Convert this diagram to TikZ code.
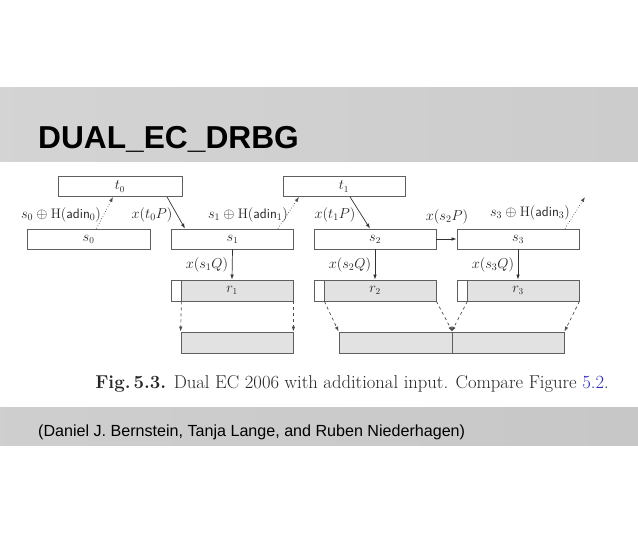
\documentclass[tikz,border=0pt]{standalone}
\usepackage{fontspec}
\newfontfamily\arialfont{Liberation Sans}
\usetikzlibrary{arrows.meta}
\definecolor{linkblue}{RGB}{40,40,190}
\definecolor{boxline}{RGB}{95,95,95}
\definecolor{rfill}{RGB}{226,226,226}
\tikzset{
  box/.style={draw=boxline, line width=0.8pt, minimum height=20pt, inner sep=0pt, font=\fontsize{13.5}{15}\selectfont, text=black!85},
  rbox/.style={box, fill=rfill, minimum height=21pt},
  pbox/.style={draw=boxline, line width=0.8pt, fill=white, minimum height=21pt, minimum width=10pt, inner sep=0pt},
  lbl/.style={font=\fontsize{13.8}{15}\selectfont, text=black!85, inner sep=0pt},
  conn/.style={draw=black!80, line width=0.7pt, -{Latex[length=5pt,width=3.5pt]}},
  dotconn/.style={conn, dotted, draw=black!70},
  dashconn/.style={conn, dash pattern=on 3pt off 3pt, draw=black!70},
}
\begin{document}
\begin{tikzpicture}[x=1pt,y=-1pt]
\useasboundingbox (0,0) rectangle (638,534);
\fill[white] (0,0) rectangle (638,534);
% bands
\shade[left color=black!17, middle color=black!3, right color=black!20] (0,88) rectangle (638,162);
\shade[left color=black!19, middle color=black!4, right color=black!22] (0,408) rectangle (638,446);
\node[anchor=base west, inner sep=0pt, font=\arialfont\bfseries\fontsize{31.7}{36}\selectfont] (title) at (38,149) {DUAL\_EC\_DRBG};
% top boxes
\node[box, minimum width=124pt] (t0) at (120,186.5) {$t_0$};
\node[box, minimum width=123pt] (s0) at (88.5,239) {$s_0$};
\node[box, minimum width=122pt] (s1) at (232.5,239) {$s_1$};
\node[box, minimum width=122pt] (t1) at (344,186.5) {$t_1$};
\node[box, minimum width=122pt] (s2) at (375,239) {$s_2$};
\node[box, minimum width=122pt] (s3) at (518,239) {$s_3$};
% r boxes
\node[rbox, minimum width=122pt] (r1) at (232,290.5) {$r_1$};
\node[pbox] (r1p) at (176,290.5) {};
\node[rbox, minimum width=122pt] (r2) at (375,290.5) {$r_2$};
\node[pbox] (r2p) at (319,290.5) {};
\node[rbox, minimum width=122pt] (r3) at (518,290.5) {$r_3$};
\node[pbox] (r3p) at (462,290.5) {};
% output boxes
\node[rbox, minimum width=112pt] (o1) at (237,342.5) {};
\node[rbox, minimum width=113pt] (o2) at (395.5,342.5) {};
\node[rbox, minimum width=112pt] (o3) at (508,342.5) {};
% free end
\coordinate (fe) at (585,197);
% connectors
\draw[dotconn] ([xshift=8pt]s0.north) -- ([xshift=-7pt]t0.south);
\draw[conn] ([xshift=47pt]t0.south) -- ([xshift=-47.5pt]s1.north);
\draw[dotconn] ([xshift=45.5pt]s1.north) -- ([xshift=-45pt]t1.south);
\draw[conn] ([xshift=6pt]t1.south) -- ([xshift=-5pt]s2.north);
\draw[conn] (s2.east) -- (s3.west);
\draw[dotconn] ([xshift=47pt]s3.north) -- (fe);
\draw[conn] (s1.south) -- (r1.north);
\draw[conn] (s2.south) -- (r2.north);
\draw[conn] (s3.south) -- (r3.north);
\draw[dashconn] (r1p.south east) -- (o1.north west);
\draw[dashconn] (r1.south east) -- (o1.north east);
\draw[dashconn] (r2p.south east) -- (o2.north west);
\draw[dashconn] (r2.south east) -- (o2.north east);
\draw[dashconn] (r3p.south east) -- (o3.north west);
\draw[dashconn] (r3.south east) -- (o3.north east);
% labels
\node[lbl] (l1) at (61,215) {$s_0 \oplus \mathrm{H}(\mathsf{adin}_0)$};
\node[lbl] (l2) at (152,215) {$x(t_0P)$};
\node[lbl] (l3) at (248,215) {$s_1 \oplus \mathrm{H}(\mathsf{adin}_1)$};
\node[lbl] (l4) at (335,215) {$x(t_1P)$};
\node[lbl] (l5) at (447,217) {$x(s_2P)$};
\node[lbl] (l6) at (530,213) {$s_3 \oplus \mathrm{H}(\mathsf{adin}_3)$};
\node[lbl] (l7) at (207,265) {$x(s_1Q)$};
\node[lbl] (l8) at (350,265) {$x(s_2Q)$};
\node[lbl] (l9) at (493,265) {$x(s_3Q)$};
% caption
\node[anchor=base east, inner sep=0pt, font=\fontsize{18.6}{21}\selectfont, text=black!85] (cap) at (609,389) {\textbf{Fig.\,5.3.} Dual EC 2006 with additional input. Compare Figure \textcolor{linkblue}{5.2}.};
\node[anchor=west, inner sep=0pt, font=\arialfont\fontsize{16.1}{18}\selectfont] (credit) at (38,432) {(Daniel J. Bernstein, Tanja Lange, and Ruben Niederhagen)};
\end{tikzpicture}
\end{document}
